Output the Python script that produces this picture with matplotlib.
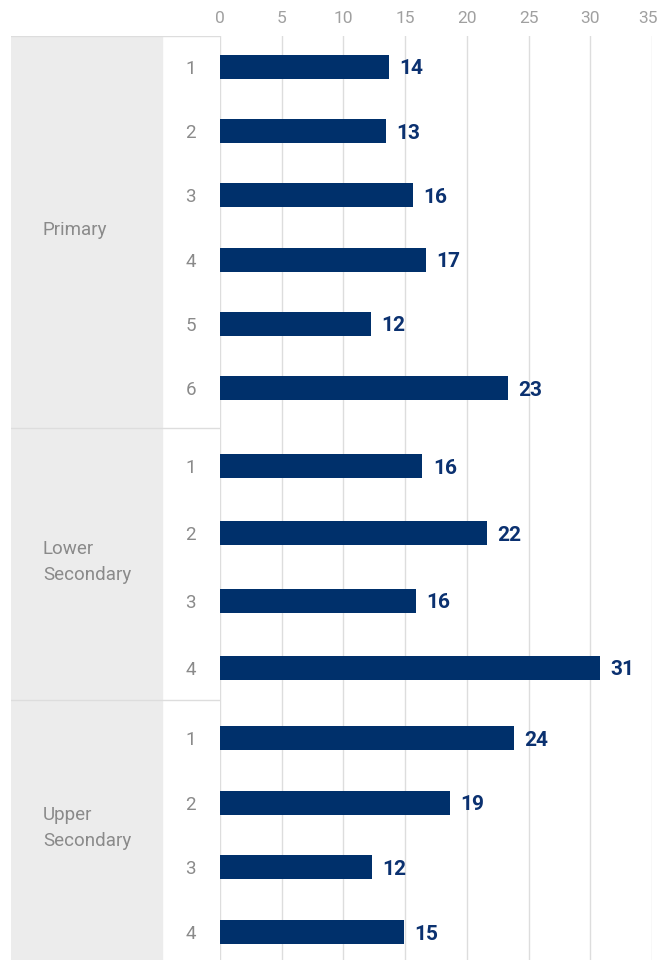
import numpy as np
import matplotlib.pyplot as plt
import matplotlib.transforms as mtransforms

# data
groups = ['Primary', 'Lower\nSecondary', 'Upper\nSecondary']
grades = [['1', '2', '3', '4', '5', '6'],
          ['1', '2', '3', '4'],
          ['1', '2', '3', '4']]
values = [[13.7, 13.45, 15.6, 16.7, 12.2, 23.3],
          [16.4, 21.6, 15.9, 30.8],
          [23.8, 18.6, 12.3, 14.9]]
ticks = [0, 5, 10, 15, 20, 25, 30, 35]

bar_color = '#00306b'
label_color = '#0b3170'
grey_text = '#8a8a8a'
line_color = '#dddddd'
font = ['Roboto', 'DejaVu Sans']

W, H = 660, 960
fig = plt.figure(figsize=(W / 100, H / 100), dpi=100)

# layout of the row sections (pixels)
top_px = 36
group_px = [392, 272, 260]
first_px = [31, 38, 38]
step_px = [64.2, 67.3, 64.7]

ax = fig.add_axes([220 / W, 0, 432 / W, (H - top_px) / H])
axl = fig.add_axes([11 / W, 0, 209 / W, (H - top_px) / H], sharey=ax)

ax.set_xlim(0, 35)
ax.set_ylim(sum(group_px), 0)

starts = np.concatenate([[0], np.cumsum(group_px)[:-1]])
for g, (name, labs, vals) in enumerate(zip(groups, grades, values)):
    ys = starts[g] + first_px[g] + step_px[g] * np.arange(len(vals))
    ax.barh(ys, vals, height=24, color=bar_color, zorder=3)
    for y, v, lab in zip(ys, vals, labs):
        ax.annotate(f'{round(v)}', (v, y), xytext=(7.5, 0), textcoords='offset points',
                    va='center_baseline', ha='left', fontsize=15, fontweight='bold',
                    color=label_color, family=font)
        axl.text(0.86, y, lab, ha='center', va='center_baseline', fontsize=13.5,
                 color=grey_text, family=font)
    axl.text(0.153, starts[g] + group_px[g] / 2 - 2, name, ha='left', va='center',
             fontsize=13.5, color=grey_text, family=font, linespacing=1.5)
    axl.axhline(starts[g], color=line_color, lw=1, zorder=2)

# grey panel
axl.axvspan(0, 0.7225, color='#ececec', zorder=0)
axl.set_xlim(0, 1)
axl.axis('off')

ax.set_xticks(ticks)
ax.xaxis.tick_top()
ax.tick_params(axis='x', length=0, pad=7.5, labelsize=12.5, labelcolor='#a0a0a0')
for t in ax.get_xticklabels():
    t.set_family(font)
# keep the last tick label inside the figure
last = ax.get_xticklabels()[-1]
last.set_transform(last.get_transform() +
                   mtransforms.ScaledTranslation(-4 / 100, 0, fig.dpi_scale_trans))
ax.set_yticks([])
ax.grid(axis='x', color=line_color, lw=1, zorder=0)
for s in ax.spines.values():
    s.set_visible(False)

fig.savefig('out.png', dpi=100)
